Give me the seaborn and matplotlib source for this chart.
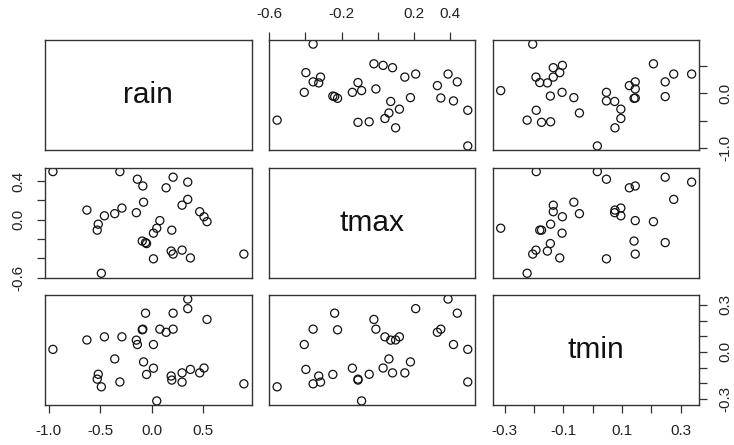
import numpy as np
import pandas as pd
import matplotlib
matplotlib.use("Agg")
import matplotlib.pyplot as plt
import seaborn as sns

# values
rain = [-0.96, -0.63, -0.52, -0.53, -0.49, -0.46, -0.36, -0.29, -0.31, -0.15,
        -0.14, -0.093, -0.087, -0.08, -0.061, -0.051, 0.078, 0.048, 0.016, 0.016,
        0.139, 0.207, 0.194, 0.188, 0.207, 0.294, 0.294, 0.349, 0.349, 0.375,
        0.465, 0.507, 0.536, 0.894]
tmax = [0.498, 0.099, -0.047, -0.109, -0.556, 0.040, 0.062, 0.120, 0.498, 0.072,
        0.419, -0.222, 0.349, 0.181, -0.238, -0.248, -0.01, -0.089, -0.140, -0.406,
        0.330, 0.440, -0.109, -0.326, -0.357, 0.150, -0.316, 0.389, 0.210, -0.397,
        0.082, 0.030, -0.021, -0.357]
tmin = [0.016, 0.076, -0.143, -0.174, -0.223, 0.096, -0.045, 0.096, -0.192, 0.075,
        0.047, 0.141, 0.145, -0.064, 0.247, -0.144, 0.145, -0.313, -0.104, 0.047,
        0.125, 0.247, -0.180, -0.154, 0.145, -0.134, -0.193, 0.337, 0.276, -0.112,
        -0.134, -0.103, 0.207, -0.204]

names = ["rain", "tmax", "tmin"]
df = pd.DataFrame({"rain": rain, "tmax": tmax, "tmin": tmin})

# tick positions and which labels R kept
ticks = {
    "rain": [-1.0, -0.5, 0.0, 0.5],
    "tmax": [-0.6, -0.4, -0.2, 0.0, 0.2, 0.4],
    "tmin": [-0.3, -0.2, -0.1, 0.0, 0.1, 0.2, 0.3],
}
xlabels = {
    "rain": ["-1.0", "-0.5", "0.0", "0.5"],
    "tmax": ["-0.6", "", "-0.2", "", "0.2", "0.4"],
    "tmin": ["-0.3", "", "-0.1", "", "0.1", "", "0.3"],
}
ylabels = {
    "rain": ["-1.0", "", "0.0", ""],
    "tmax": ["-0.6", "", "", "0.0", "", "0.4"],
    "tmin": ["-0.3", "", "", "0.0", "", "", "0.3"],
}

sns.set_style("white")
plt.rcParams["font.family"] = ["Liberation Sans", "DejaVu Sans"]

g = sns.PairGrid(df, vars=names, despine=False, height=1.5)
g.map_offdiag(sns.scatterplot, marker="o", s=34, facecolor="none",
              edgecolor="#111111", linewidth=0.9)
g.figure.set_size_inches(7.34, 4.45)
g.figure.subplots_adjust(left=0.0617, right=0.9527, bottom=0.0899, top=0.910,
                         wspace=0.0856, hspace=0.159)

for i, yv in enumerate(names):
    for j, xv in enumerate(names):
        ax = g.axes[i, j]
        ax.set_xlabel("")
        ax.set_ylabel("")
        for s in ax.spines.values():
            s.set_color("#333333")
            s.set_linewidth(1.0)
        ax.tick_params(bottom=False, top=False, left=False, right=False,
                       labelbottom=False, labeltop=False, labelleft=False,
                       labelright=False)
        ax.tick_params(length=6, width=0.9, color="#333333", labelsize=11,
                       labelcolor="#222222", pad=8, direction="out")

# shared scales per column / row, R style 4% extension
for j, v in enumerate(names):
    vals = df[v]
    r = vals.max() - vals.min()
    lo, hi = vals.min() - 0.04 * r, vals.max() + 0.04 * r
    g.axes[0, j].set_xlim(lo, hi)
    g.axes[j, 0].set_ylim(lo, hi)
    g.axes[0, j].set_xticks(ticks[v], xlabels[v])
    g.axes[j, 0].set_yticks(ticks[v], ylabels[v])

# alternating axes like R's pairs()
g.axes[2, 0].tick_params(bottom=True, labelbottom=True)
g.axes[0, 1].tick_params(top=True, labeltop=True)
g.axes[2, 2].tick_params(bottom=True, labelbottom=True)
g.axes[0, 2].tick_params(right=True, labelright=True)
g.axes[1, 0].tick_params(left=True, labelleft=True)
g.axes[2, 2].tick_params(right=True, labelright=True)

for ax in [g.axes[0, 2], g.axes[1, 0], g.axes[2, 2]]:
    for lbl in ax.get_yticklabels():
        lbl.set_rotation(90)
        lbl.set_va("center")

for i, v in enumerate(names):
    g.axes[i, i].text(0.5, 0.5, v, transform=g.axes[i, i].transAxes,
                      ha="center", va="center", fontsize=21.5, color="#111111")

g.figure.savefig("out.png", dpi=100)
